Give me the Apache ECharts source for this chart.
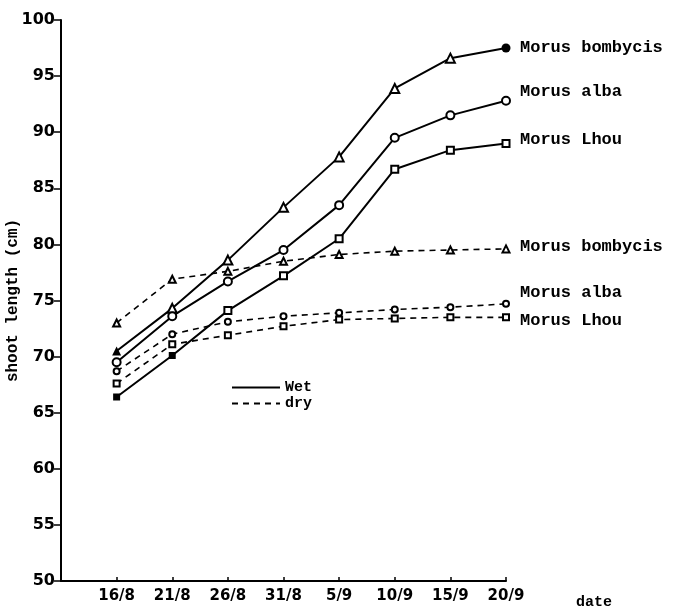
<!DOCTYPE html>
<html>
<head>
<meta charset="utf-8">
<script src="https://cdn.jsdelivr.net/npm/echarts@6/dist/echarts.min.js"></script>
<style>
  html, body { margin: 0; padding: 0; background: #fff; }
  #chart { width: 691px; height: 613px; }
</style>
</head>
<body>
<div id="chart"></div>
<script>
// dates along the x axis
const dates = ['16/8', '21/8', '26/8', '31/8', '5/9', '10/9', '15/9', '20/9'];
// wet treatment
const wetBombycis = [70.5, 74.3, 78.6, 83.3, 87.8, 93.9, 96.6, 97.5];
const wetAlba = [69.5, 73.6, 76.7, 79.5, 83.5, 89.5, 91.5, 92.8];
const wetLhou = [66.4, 70.1, 74.1, 77.2, 80.5, 86.7, 88.4, 89.0];
// dry treatment
const dryBombycis = [73.0, 76.9, 77.6, 78.5, 79.1, 79.4, 79.5, 79.6];
const dryAlba = [68.7, 72.0, 73.1, 73.6, 73.9, 74.2, 74.4, 74.7];
const dryLhou = [67.6, 71.1, 71.9, 72.7, 73.3, 73.4, 73.5, 73.5];
const yTicks = [50, 55, 60, 65, 70, 75, 80, 85, 90, 95, 100];

const mono = '"Liberation Mono", "DejaVu Sans Mono", monospace';
const sans = '"DejaVu Sans", sans-serif';

const pts = (arr, filled) => arr.map((v, i) => {
  const item = { value: [i, v] };
  if (filled && filled[i]) item.symbol = filled[i];
  return item;
});

const mkSeries = (name, label, arr, symbol, size, dashed, dy, filled) => ({
  name,
  type: 'line',
  data: pts(arr, filled),
  symbol,
  symbolSize: size,
  showAllSymbol: true,
  lineStyle: { color: '#000', width: dashed ? 1.6 : 2, type: dashed ? [6, 5] : 'solid' },
  itemStyle: { color: '#000', borderWidth: 1.5 },
  endLabel: {
    show: true,
    formatter: () => label,
    offset: [6, dy],
    color: '#000',
    fontFamily: mono,
    fontWeight: 'bold',
    fontSize: 17
  },
  animation: false
});

const chart = echarts.init(document.getElementById('chart'));
chart.setOption({
  animation: false,
  grid: { left: 61, right: 185, top: 20, bottom: 32, outerBoundsMode: 'none', containLabel: false },
  legend: {
    data: ['Wet', 'dry'],
    orient: 'vertical',
    left: 226,
    top: 375,
    itemWidth: 48,
    itemHeight: 14,
    itemGap: 1,
    itemStyle: { opacity: 0 },
    textStyle: { fontFamily: mono, fontWeight: 'bold', fontSize: 15, color: '#000' }
  },
  xAxis: {
    type: 'value',
    min: -1,
    max: dates.length - 1,
    interval: 1,
    name: 'date',
    nameLocation: 'end',
    nameGap: 70,
    nameMoveOverlap: false,
    nameTextStyle: { fontFamily: mono, fontWeight: 'bold', fontSize: 15, color: '#000', verticalAlign: 'top', padding: [14, 0, 0, 0] },
    splitLine: { show: false },
    axisLine: { onZero: false, lineStyle: { color: '#000', width: 2 } },
    axisTick: { inside: true, length: 4, lineStyle: { color: '#000', width: 1.5 } },
    axisLabel: {
      formatter: v => (Number.isInteger(v) && dates[v]) ? dates[v] : '',
      color: '#000',
      fontFamily: sans,
      fontWeight: 'bold',
      fontSize: 15,
      margin: 8
    }
  },
  yAxis: {
    type: 'value',
    min: yTicks[0],
    max: yTicks[yTicks.length - 1],
    interval: 5,
    name: 'shoot length (cm)',
    nameLocation: 'middle',
    nameGap: 40,
    nameMoveOverlap: false,
    nameTextStyle: { fontFamily: mono, fontWeight: 'bold', fontSize: 16, color: '#000' },
    splitLine: { show: false },
    axisLine: { show: true, onZero: false, lineStyle: { color: '#000', width: 2 } },
    axisTick: { length: 7, lineStyle: { color: '#000', width: 1.5 } },
    axisLabel: {
      color: '#000',
      fontFamily: sans,
      fontWeight: 'bold',
      fontSize: 16,
      margin: 6
    }
  },
  series: [
    mkSeries('Wet', 'Morus bombycis', wetBombycis, 'emptyTriangle', 9, false, 0, { 0: 'triangle', 7: 'circle' }),
    mkSeries('Wet', 'Morus alba', wetAlba, 'emptyCircle', 8, false, -9),
    mkSeries('Wet', 'Morus Lhou', wetLhou, 'emptyRect', 7, false, -4, { 0: 'rect', 1: 'rect' }),
    mkSeries('dry', 'Morus bombycis', dryBombycis, 'emptyTriangle', 7, true, -2),
    mkSeries('dry', 'Morus alba', dryAlba, 'emptyCircle', 6, true, -11),
    mkSeries('dry', 'Morus Lhou', dryLhou, 'emptyRect', 6, true, 3)
  ]
});
</script>
</body>
</html>
